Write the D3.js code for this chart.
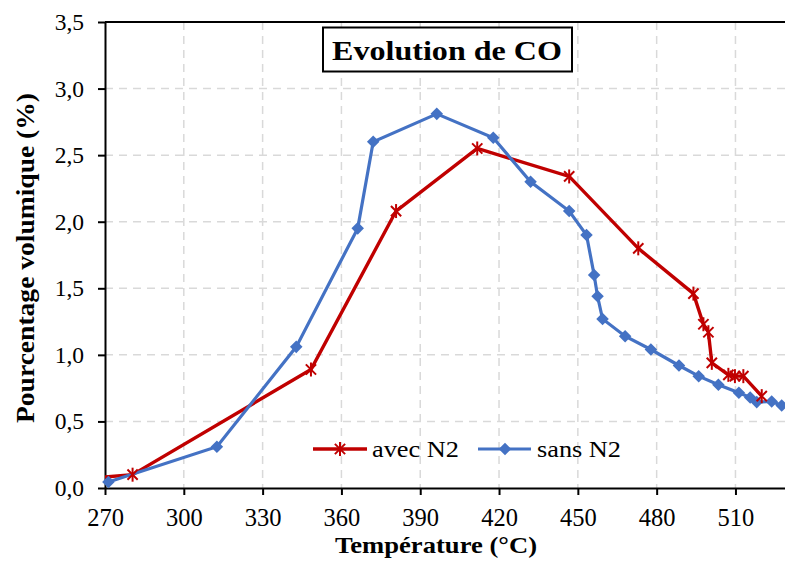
<!DOCTYPE html>
<html><head><meta charset="utf-8">
<script src="https://cdn.jsdelivr.net/npm/d3@7"></script>
<style>body{margin:0;background:#fff}svg{display:block}svg text{font-family:"Liberation Serif","Times New Roman",Times,"DejaVu Serif",serif !important}</style>
</head><body><div id="c"></div>
<script>
const avecN2T = [268, 280.5, 348.4, 380.8, 411.7, 446.7, 473, 494, 497.8, 499.7, 501, 507.3, 509.8, 513, 520];
const avecN2V = [0.08, 0.1, 0.89, 2.08, 2.55, 2.34, 1.80, 1.46, 1.23, 1.17, 0.94, 0.85, 0.84, 0.84, 0.69];
const sansN2T = [271.3, 312.6, 342.8, 366.2, 372.1, 396.3, 417.8, 432, 446.7, 453.3, 456.2, 457.5, 459.4, 468, 477.8, 488.5, 496, 503.5, 511.3, 515.6, 518.1, 523.8, 527.6];
const sansN2V = [0.045, 0.31, 1.06, 1.95, 2.60, 2.81, 2.63, 2.30, 2.08, 1.90, 1.60, 1.44, 1.27, 1.14, 1.04, 0.92, 0.84, 0.775, 0.715, 0.68, 0.645, 0.65, 0.62];
const xTicks = [270, 300, 330, 360, 390, 420, 450, 480, 510];
const yTicks = [0, 0.5, 1, 1.5, 2, 2.5, 3, 3.5];
const seriesNames = ["avec N2", "sans N2"];
const title = "Evolution de CO";
const xTitle = "Température (°C)";
const yTitle = "Pourcentage volumique (%)";

const W = 785, H = 565;
const L = 105, T = 22, B = 488;
const FF = '"Liberation Serif","Times New Roman",Times,"DejaVu Serif",serif';
const svg = d3.select("#c").append("svg").attr("width", W).attr("height", H).attr("font-family", FF);
const x = d3.scaleLinear().domain([270, 530]).range([L, 788]);
const y = d3.scaleLinear().domain([0, 3.5]).range([B, T]);
const fmt = d => d3.format(".1f")(d).replace(".", ",");

svg.append("defs").append("clipPath").attr("id", "clip")
  .append("rect").attr("x", L).attr("y", T).attr("width", W - L).attr("height", B - T);

// grid
const grid = svg.append("g");
grid.selectAll(".gx").data(xTicks.filter(d => d > 270)).join("line")
  .attr("x1", d => x(d)).attr("x2", d => x(d)).attr("y1", T).attr("y2", B)
  .attr("stroke", "#d9d9d9").attr("stroke-width", 1.5).attr("stroke-dasharray", "8,6");
grid.selectAll(".gy").data(yTicks.filter(d => d > 0 && d < 3.5)).join("line")
  .attr("x1", L).attr("x2", W).attr("y1", d => y(d)).attr("y2", d => y(d))
  .attr("stroke", "#d9d9d9").attr("stroke-width", 1.5).attr("stroke-dasharray", "8,6");

// axes
const xa = svg.append("g").attr("transform", `translate(0,${B})`)
  .call(d3.axisBottom(x).tickValues(xTicks).tickSize(7).tickSizeOuter(0).tickPadding(13.5).tickFormat(d3.format("d")));
const ya = svg.append("g").attr("transform", `translate(${L},0)`)
  .call(d3.axisLeft(y).tickValues(yTicks).tickSize(7).tickSizeOuter(0).tickPadding(14).tickFormat(fmt));
[xa, ya].forEach(a => {
  a.attr("font-family", FF);
  a.select(".domain").attr("stroke", "#000").attr("stroke-width", 2);
  a.selectAll(".tick line").attr("stroke", "#000").attr("stroke-width", 2);
  a.selectAll("text").attr("fill", "#000");
});
xa.selectAll("text").attr("font-size", 24.5);
ya.selectAll("text").attr("font-size", 23.5);
svg.append("line").attr("x1", L).attr("x2", W).attr("y1", T).attr("y2", T).attr("stroke", "#000").attr("stroke-width", 2);

// series
const red = "#C00000", blue = "#4472C4";
const avec = avecN2T.map((t, i) => [t, avecN2V[i]]);
const sans = sansN2T.map((t, i) => [t, sansN2V[i]]);
const line = d3.line().x(d => x(d[0])).y(d => y(d[1]));
const plot = svg.append("g");
plot.append("path").datum(avec).attr("d", line).attr("fill", "none").attr("stroke", red).attr("stroke-width", 3.4).attr("clip-path", "url(#clip)");
plot.append("path").datum(sans).attr("d", line).attr("fill", "none").attr("stroke", blue).attr("stroke-width", 3.2).attr("clip-path", "url(#clip)");

const star = d3.symbol().type(d3.symbolTimes).size(70);
function drawStar(g, cx, cy) {
  g.append("path").attr("d", star()).attr("transform", `translate(${cx},${cy})`).attr("stroke", red).attr("stroke-width", 2).attr("fill", "none");
  g.append("line").attr("x1", cx).attr("x2", cx).attr("y1", cy - 7).attr("y2", cy + 7).attr("stroke", red).attr("stroke-width", 2);
}
const diamond = d3.symbol().type(d3.symbolDiamond2).size(100);
sans.filter(d => d[0] >= 270).forEach(d => {
  plot.append("path").attr("d", diamond()).attr("transform", `translate(${x(d[0])},${y(d[1])})`).attr("fill", blue);
});
avec.filter(d => d[0] >= 270).forEach(d => drawStar(plot, x(d[0]), y(d[1])));

// title box
const tb = svg.append("g");
tb.append("rect").attr("x", 323).attr("y", 27.5).attr("width", 249).attr("height", 44).attr("fill", "#fff").attr("stroke", "#000").attr("stroke-width", 2);
tb.append("text").attr("x", 332).attr("y", 60).attr("font-size", 28).attr("font-weight", "bold")
  .attr("textLength", 230).attr("lengthAdjust", "spacingAndGlyphs").text(title);

// legend
const lg = svg.append("g");
const ly = 449;
lg.append("line").attr("x1", 313).attr("x2", 367).attr("y1", ly).attr("y2", ly).attr("stroke", red).attr("stroke-width", 3.4);
drawStar(lg, 340, ly);
lg.append("text").attr("x", 372).attr("y", 457).attr("font-size", 23).attr("textLength", 87).attr("lengthAdjust", "spacingAndGlyphs").text(seriesNames[0]);
lg.append("line").attr("x1", 478).attr("x2", 531).attr("y1", ly).attr("y2", ly).attr("stroke", blue).attr("stroke-width", 3.2);
lg.append("path").attr("d", diamond()).attr("transform", `translate(505,${ly})`).attr("fill", blue);
lg.append("text").attr("x", 537).attr("y", 457).attr("font-size", 23).attr("textLength", 84).attr("lengthAdjust", "spacingAndGlyphs").text(seriesNames[1]);

// axis titles
svg.append("text").attr("x", 335).attr("y", 552.5).attr("font-size", 23.5).attr("font-weight", "bold")
  .attr("textLength", 202).attr("lengthAdjust", "spacingAndGlyphs").text(xTitle);
svg.append("text").attr("transform", `translate(33.5,423) rotate(-90)`).attr("font-size", 25).attr("font-weight", "bold")
  .attr("textLength", 330).attr("lengthAdjust", "spacingAndGlyphs").text(yTitle);
</script></body></html>
